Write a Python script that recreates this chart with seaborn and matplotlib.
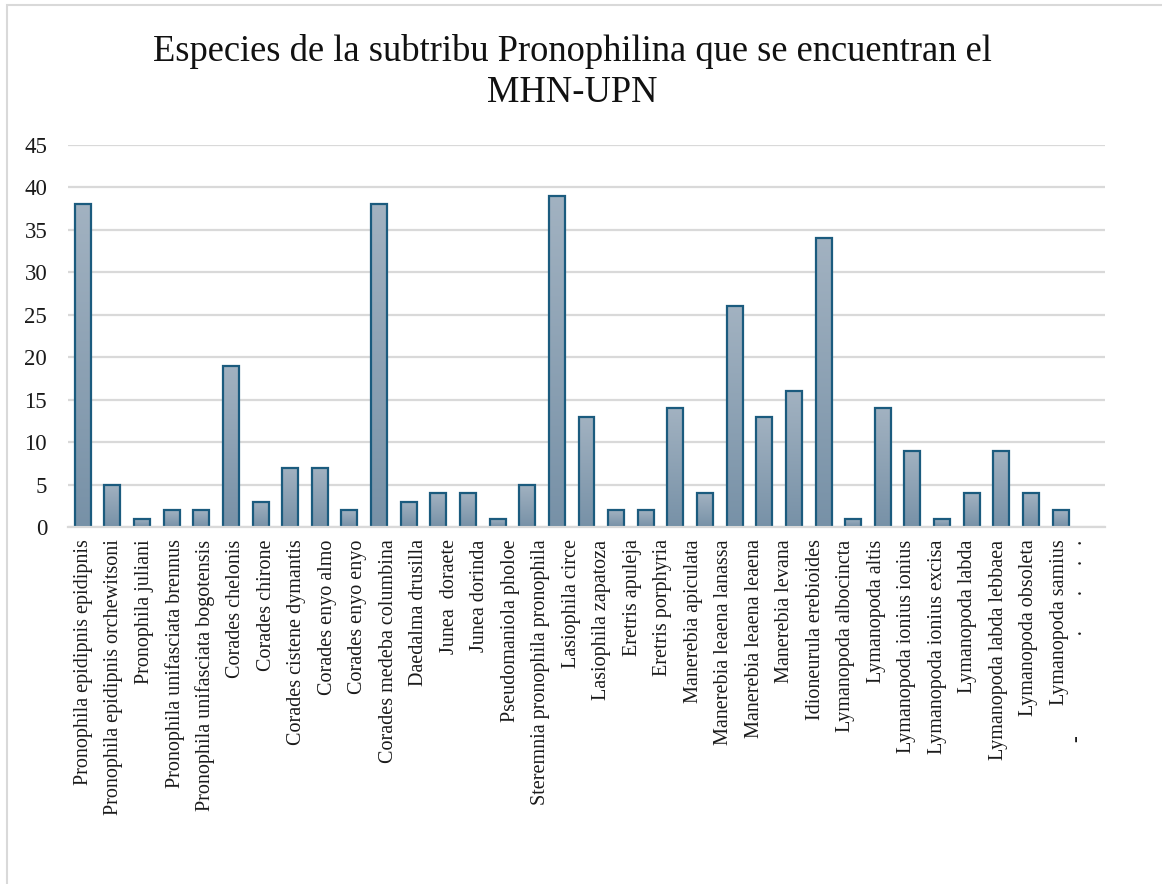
import numpy as np
import pandas as pd
import matplotlib
matplotlib.use("Agg")
import matplotlib.pyplot as plt
import seaborn as sns
from matplotlib.patches import Rectangle
from matplotlib.colors import LinearSegmentedColormap

# category labels shown under the axis (34 labels, the last one is clipped in the source)
tick_labels = [
    "Pronophila epidipnis epidipnis",
    "Pronophila epidipnis orchewitsoni",
    "Pronophila juliani",
    "Pronophila unifasciata brennus",
    "Pronophila unifasciata bogotensis",
    "Corades chelonis",
    "Corades chirone",
    "Corades cistene dymantis",
    "Corades enyo almo",
    "Corades enyo enyo",
    "Corades medeba columbina",
    "Daedalma drusilla",
    "Junea  doraete",
    "Junea dorinda",
    "Pseudomaniola pholoe",
    "Steremnia pronophila pronophila",
    "Lasiophila circe",
    "Lasiophila zapatoza",
    "Eretris apuleja",
    "Eretris porphyria",
    "Manerebia apiculata",
    "Manerebia leaena lanassa",
    "Manerebia leaena leaena",
    "Manerebia levana",
    "Idioneurula erebioides",
    "Lymanopoda albocincta",
    "Lymanopoda altis",
    "Lymanopoda ionius ionius",
    "Lymanopoda ionius excisa",
    "Lymanopoda labda",
    "Lymanopoda labda lebbaea",
    "Lymanopoda obsoleta",
    "Lymanopoda samius",
    "-" + " " * 20 + "." + " " * 7 + "." + " " * 5 + "." + " " * 3 + ".",
]
# bar values for the 35 category slots of the axis (last slot empty)
counts = [38, 5, 1, 2, 2, 19, 3, 7, 7, 2, 38, 3, 4, 4, 1, 5, 39, 13, 2, 2,
          14, 4, 26, 13, 16, 34, 1, 14, 9, 1, 4, 9, 4, 2, 0]
slots = [f"c{i:02d}" for i in range(len(counts))]

title = "Especies de la subtribu Pronophilina que se encuentran el\nMHN-UPN"
yticks = [0, 5, 10, 15, 20, 25, 30, 35, 40, 45]

df = pd.DataFrame({"slot": slots, "count": counts})

sns.set_theme(style="white")
plt.rcParams["font.family"] = ["Liberation Serif", "DejaVu Serif"]

fig = plt.figure(figsize=(11.62, 8.84), dpi=100)
ax = fig.add_axes([68 / 1162, 1 - 527 / 884, (1105 - 68) / 1162, (527 - 145) / 884])

sns.barplot(data=df, x="slot", y="count", ax=ax, color="#8ca1b4",
            edgecolor="#1b5b7e", linewidth=1.6, width=0.54, saturation=1)

# vertical gradient fill inside each bar
grad = np.linspace(0, 1, 256).reshape(-1, 1)
cmap = LinearSegmentedColormap.from_list("g", ["#7791a7", "#a2b2c1"])
for p in list(ax.patches):
    x0, y0 = p.get_x(), p.get_y()
    w, h = p.get_width(), p.get_height()
    if h <= 0:
        p.set_visible(False)
        continue
    im = ax.imshow(grad, extent=[x0, x0 + w, y0, y0 + h], origin="lower",
                   cmap=cmap, aspect="auto", zorder=p.get_zorder() + 0.1)
    im.set_clip_path(p)
    p.set_facecolor("none")
    p.set_zorder(p.get_zorder() + 0.2)

n_slots = len(counts)
n_lab = len(tick_labels)
ax.set_xlim(-0.5, n_slots - 0.5)
ax.set_ylim(0, 45)
ax.set_yticks(yticks)
ax.set_yticklabels([str(t) for t in yticks], fontsize=16.5, color="#1a1a1a")
# labels are spread evenly across the whole axis width
label_pos = [(i + 0.5) * n_slots / n_lab - 0.5 for i in range(n_lab)]
ax.set_xticks(label_pos)
shown = tick_labels[:-1] + [""]
ax.set_xticklabels(shown, rotation=90, fontsize=14.5, color="#1a1a1a")
# clipped last label sits slightly left of its even position
ax.annotate(tick_labels[-1], xy=(label_pos[-1], 0), xycoords=("data", "axes fraction"),
            xytext=(-9, -9), textcoords="offset points", rotation=90,
            ha="center", va="top", fontsize=14.5, color="#1a1a1a",
            annotation_clip=False)
ax.tick_params(axis="both", length=0)
ax.tick_params(axis="y", pad=15)
ax.tick_params(axis="x", pad=9)
ax.set_xlabel("")
ax.set_ylabel("")
ax.grid(axis="y", color="#d9d9d9", linewidth=1.6)
ax.set_axisbelow(True)
for s in ["left", "right", "top"]:
    ax.spines[s].set_visible(False)
ax.spines["bottom"].set_color("#d9d9d9")
ax.spines["bottom"].set_linewidth(1.6)

fig.text(572 / 1162, 1 - 72 / 884, title, ha="center", va="center",
         fontsize=26.3, color="#111111", linespacing=1.22)

# outer chart border
fig.add_artist(Rectangle((7 / 1162, -0.1), 1.2, 1 - 5 / 884 + 0.1,
                         transform=fig.transFigure, fill=False,
                         edgecolor="#d9d9d9", linewidth=1.5))

fig.savefig("out.png", dpi=100)
